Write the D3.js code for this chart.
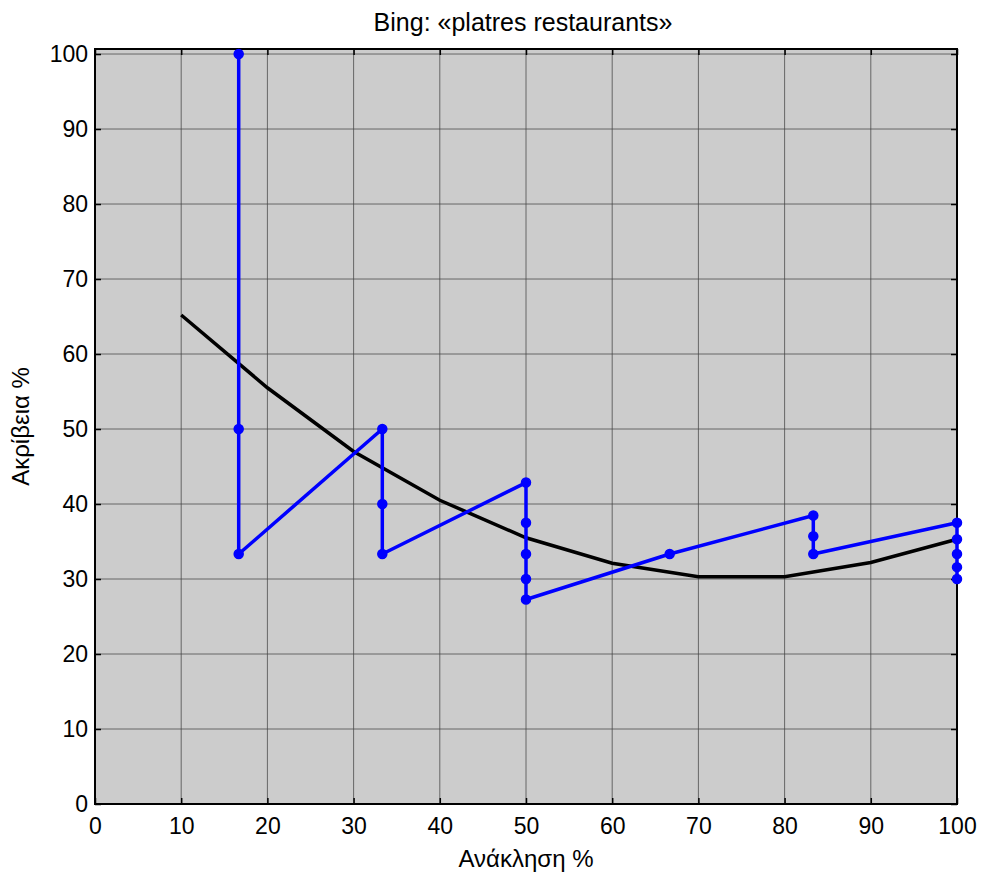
<!DOCTYPE html>
<html lang="el">
<head>
    <meta charset="UTF-8">
    <title>Bing: «platres restaurants»</title>
    <script src="https://d3js.org/d3.v7.min.js"></script>
    <style>
        body { margin: 0; background: #fff; }
        text { font-family: "Liberation Sans", Arial, sans-serif; fill: #000; }
    </style>
</head>
<body>
<svg width="983" height="878"></svg>

<script>
    // recall / precision points (blue) and interpolated curve (black)
    var recall = [16.67, 16.67, 16.67, 33.33, 33.33, 33.33, 50, 50, 50, 50, 50,
        66.67, 83.33, 83.33, 83.33, 100, 100, 100, 100, 100];
    var precision = [100, 50, 33.33, 50, 40, 33.33, 42.86, 37.5, 33.33, 30, 27.27,
        33.33, 38.46, 35.71, 33.33, 37.5, 35.29, 33.33, 31.58, 30];

    var curveRecall = [10, 20, 30, 40, 50, 60, 70, 80, 90, 100];
    var curvePrecision = [65.2, 55.5, 47.0, 40.5, 35.5, 32.1, 30.3, 30.3, 32.2, 35.3];

    var xTicks = [0, 10, 20, 30, 40, 50, 60, 70, 80, 90, 100];
    var yTicks = [0, 10, 20, 30, 40, 50, 60, 70, 80, 90, 100];

    var svg = d3.select("svg");
    var plotL = 95, plotR = 957, plotT = 49, plotB = 804;

    var x = d3.scaleLinear().domain([0, 100]).range([plotL, plotR]);
    var y = d3.scaleLinear().domain([0, 100.67]).range([plotB, plotT]);

    svg.append("rect")
        .attr("x", plotL).attr("y", plotT)
        .attr("width", plotR - plotL).attr("height", plotB - plotT)
        .attr("fill", "#cccccc");

    // grid
    var grid = svg.append("g").attr("stroke", "#444").attr("stroke-opacity", 0.75).attr("stroke-width", 1);
    grid.selectAll(".gx").data(xTicks.slice(1, -1)).enter().append("line")
        .attr("x1", function (d) { return x(d); }).attr("x2", function (d) { return x(d); })
        .attr("y1", plotT).attr("y2", plotB);
    grid.selectAll(".gy").data(yTicks.slice(1)).enter().append("line")
        .attr("y1", function (d) { return y(d); }).attr("y2", function (d) { return y(d); })
        .attr("x1", plotL).attr("x2", plotR);

    // axes with inward ticks
    var xAxis = svg.append("g").attr("transform", "translate(0," + plotB + ")")
        .call(d3.axisBottom(x).tickValues(xTicks).tickSize(-6).tickPadding(14));
    var xAxisTop = svg.append("g").attr("transform", "translate(0," + plotT + ")")
        .call(d3.axisTop(x).tickValues(xTicks).tickSize(-6).tickFormat(""));
    var yAxis = svg.append("g").attr("transform", "translate(" + plotL + ",0)")
        .call(d3.axisLeft(y).tickValues(yTicks).tickSize(-6).tickPadding(7));
    var yAxisRight = svg.append("g").attr("transform", "translate(" + plotR + ",0)")
        .call(d3.axisRight(y).tickValues(yTicks).tickSize(-6).tickFormat(""));

    [xAxis, xAxisTop, yAxis, yAxisRight].forEach(function (a) {
        a.select(".domain").remove();
        a.selectAll(".tick line").attr("stroke", "#000").attr("stroke-width", 1.5);
        a.selectAll("text").attr("font-size", 23).attr("fill", "#000");
    });

    svg.append("rect")
        .attr("x", plotL).attr("y", plotT)
        .attr("width", plotR - plotL).attr("height", plotB - plotT)
        .attr("fill", "none").attr("stroke", "#000").attr("stroke-width", 2);

    // black curve
    var curvePts = curveRecall.map(function (r, i) { return [r, curvePrecision[i]]; });
    svg.append("path")
        .datum(curvePts)
        .attr("fill", "none").attr("stroke", "#000").attr("stroke-width", 3.5)
        .attr("d", d3.line().x(function (d) { return x(d[0]); }).y(function (d) { return y(d[1]); }));

    // blue series
    var pts = recall.map(function (r, i) { return [r, precision[i]]; });
    svg.append("path")
        .datum(pts)
        .attr("fill", "none").attr("stroke", "#0000ff").attr("stroke-width", 3.5)
        .attr("stroke-linejoin", "round")
        .attr("d", d3.line().x(function (d) { return x(d[0]); }).y(function (d) { return y(d[1]); }));
    svg.selectAll(".pt").data(pts).enter().append("circle")
        .attr("cx", function (d) { return x(d[0]); })
        .attr("cy", function (d) { return y(d[1]); })
        .attr("r", 4.5)
        .attr("fill", "#0000ff").attr("stroke", "#0000ff").attr("stroke-width", 1.5);

    // labels
    svg.append("text").attr("x", 523).attr("y", 31)
        .attr("text-anchor", "middle").attr("font-size", 25)
        .text("Bing: «platres restaurants»");
    svg.append("text").attr("x", (plotL + plotR) / 2).attr("y", 867)
        .attr("text-anchor", "middle").attr("font-size", 24)
        .text("Ανάκληση %");
    svg.append("text")
        .attr("transform", "translate(29," + ((plotT + plotB) / 2) + ") rotate(-90)")
        .attr("text-anchor", "middle").attr("font-size", 24)
        .text("Ακρίβεια %");
</script>

</body>
</html>
